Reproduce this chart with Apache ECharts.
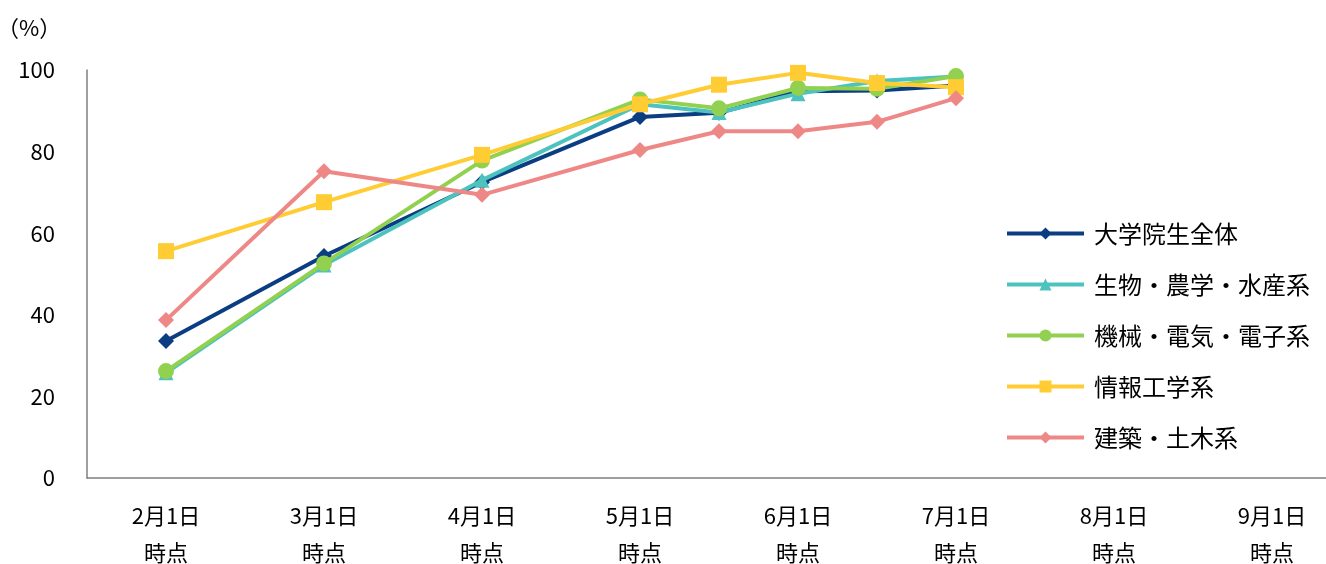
<!DOCTYPE html>
<html><head><meta charset="utf-8">
<script src="https://cdn.jsdelivr.net/npm/echarts@6/dist/echarts.min.js"></script>
<style>html,body{margin:0;padding:0;background:#fff}#c{width:1326px;height:564px}</style>
</head><body><div id="c"></div>
<script>
// Axis tick labels (first of each month)
const monthLabels = ['2月1日','3月1日','4月1日','5月1日','6月1日','7月1日','8月1日','9月1日'];
const labelSuffix = '時点';
// Survey dates of the data points (month/day)
const pointDates = ['2/1','3/1','4/1','5/1','5/15','6/1','6/15','7/1'];
const seriesNames = ['大学院生全体','生物・農学・水産系','機械・電気・電子系','情報工学系','建築・土木系'];
const allGrad    = [33.6, 54.4, 72.5, 88.5, 89.5, 94.8, 95.0, 96.2];
const bioAgri    = [25.8, 52.2, 73.0, 91.6, 89.6, 94.2, 97.3, 98.4];
const mechElec   = [26.2, 52.6, 77.8, 92.8, 90.6, 95.6, 95.4, 98.5];
const infoEng    = [55.6, 67.6, 79.2, 91.6, 96.4, 99.3, 96.8, 95.8];
const archCivil  = [38.7, 75.2, 69.4, 80.4, 85.0, 85.0, 87.3, 93.1];
const yTicks = [0, 20, 40, 60, 80, 100];

// convert a date to half-month index relative to Feb 1
function dateToX(d){ const [m, day] = d.split('/').map(Number); return (m - 2) * 2 + (day > 1 ? 1 : 0); }
const xs = pointDates.map(dateToX);
const pair = arr => arr.map((v, i) => [xs[i], v]);

const colors = ['#0B3D82','#4CC3BE','#92D050','#FFCC33','#EE8886'];
const symbols = ['diamond','triangle','circle','rect','diamond'];
const symSizes = [16, 15, 16, 16, 16];
const dataSets = [allGrad, bioAgri, mechElec, infoEng, archCivil];
const font = '"Noto Sans CJK JP", sans-serif';

const chart = echarts.init(document.getElementById('c'));
chart.setOption({
  animation: false,
  title: { text: '（%）', left: -8, top: 12, textStyle: { fontFamily: font, fontSize: 22, fontWeight: 'normal', color: '#000' } },
  grid: { left: 87, right: -25, top: 70, bottom: 86, outerBoundsMode: 'none', containLabel: false },
  legend: {
    orient: 'vertical', left: 1005, top: 220, padding: 0,
    itemWidth: 77, itemHeight: 15, itemGap: 24,
    lineStyle: { width: 4 },
    textStyle: { fontFamily: font, fontSize: 24, color: '#000', lineHeight: 27, padding: [0, 0, 0, 5] },
    data: seriesNames
  },
  xAxis: {
    type: 'value', min: -1, max: 15, interval: 1,
    axisLine: { show: true, onZero: false, lineStyle: { color: '#7f7f7f', width: 1.5 } },
    axisTick: { show: false }, splitLine: { show: false },
    axisLabel: {
      margin: 19, fontFamily: font, fontSize: 22, color: '#000', lineHeight: 37,
      formatter: v => (Number.isInteger(v) && v >= 0 && v % 2 === 0 && monthLabels[v/2]) ? monthLabels[v/2] + '\n' + labelSuffix : ''
    }
  },
  yAxis: {
    type: 'value', min: 0, max: 100, interval: 20,
    axisLine: { show: true, onZero: false, lineStyle: { color: '#7f7f7f', width: 1.5 } },
    axisTick: { show: false }, splitLine: { show: false },
    axisLabel: { margin: 32, fontFamily: font, fontSize: 22, color: '#000',
      formatter: v => yTicks.includes(v) ? String(v) : '' }
  },
  series: seriesNames.map((n, i) => ({
    name: n, type: 'line', data: pair(dataSets[i]),
    symbol: symbols[i], symbolSize: symSizes[i],
    lineStyle: { color: colors[i], width: 4 },
    itemStyle: { color: colors[i] },
    z: 2 + i
  }))
});
</script></body></html>
